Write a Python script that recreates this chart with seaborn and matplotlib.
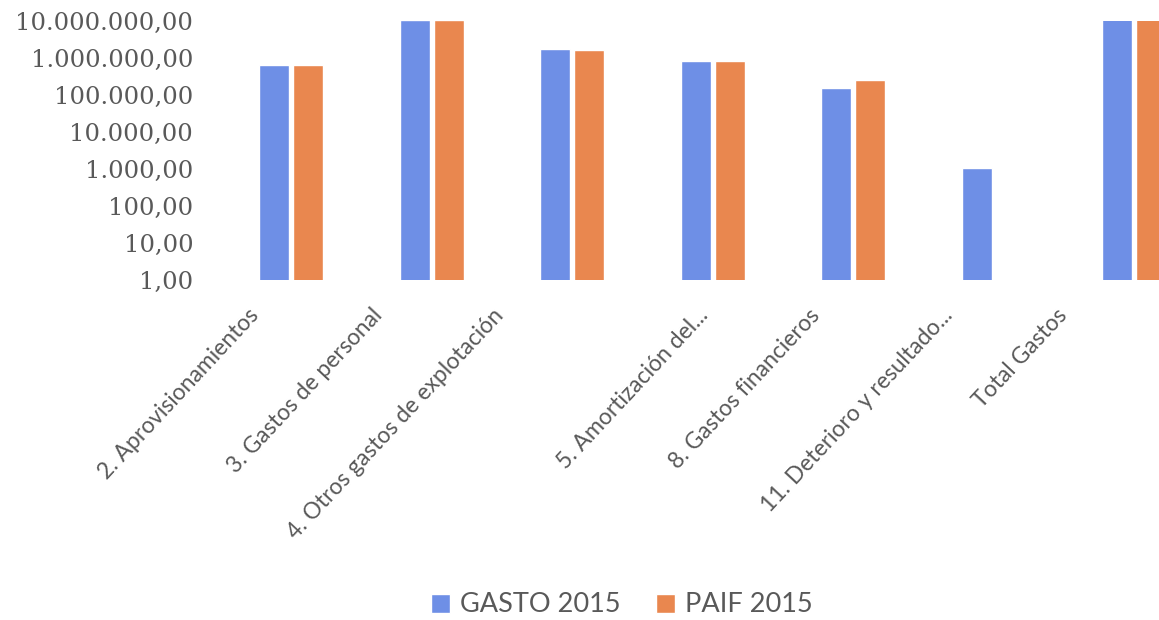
import matplotlib
matplotlib.use("Agg")
import matplotlib.pyplot as plt
import matplotlib.transforms as mtransforms
from matplotlib.patches import Patch
from matplotlib.ticker import FixedLocator, FuncFormatter, NullLocator
import numpy as np
import pandas as pd
import seaborn as sns

categories = [
    "2. Aprovisionamientos",
    "3. Gastos de personal",
    "4. Otros gastos de explotación",
    "5. Amortización del...",
    "8. Gastos financieros",
    "11. Deterioro y resultado...",
    "Total Gastos",
]
gasto_2015 = [630000, 10500000, 1730000, 810000, 155000, 1050, 13000000]
paif_2015 = [640000, 10800000, 1650000, 850000, 257000, np.nan, 13500000]
series_names = ["GASTO 2015", "PAIF 2015"]
y_ticks = [1, 10, 100, 1000, 10000, 100000, 1000000, 10000000]

blue = "#6E8FE6"
orange = "#E9874F"
grey = "#595959"

# horizontal nudge (px) of each rotated category label, as in the scan
label_nudge = [-36, -53, -72, -8, -37, -45, -71]

df = pd.DataFrame({
    "categoria": categories * 2,
    "serie": [series_names[0]] * len(categories) + [series_names[1]] * len(categories),
    "valor": gasto_2015 + paif_2015,
})

sns.set_theme(style="white")
plt.rcParams["font.family"] = ["Lato", "DejaVu Sans"]

fig = plt.figure(figsize=(11.59, 6.2), dpi=100)
ax = fig.add_axes([221 / 1159, 340 / 620, 983.5 / 1159, 259 / 620])

sns.barplot(
    data=df, x="categoria", y="valor", hue="serie",
    palette=[blue, orange], width=0.49, gap=0.13,
    legend=False, ax=ax, saturation=1,
)

ax.set_yscale("log", nonpositive="clip")
ax.set_ylim(1, 1e7)
ax.set_xlim(-0.5, len(categories) - 0.5)
ax.yaxis.set_major_locator(FixedLocator(y_ticks))
ax.yaxis.set_minor_locator(NullLocator())


def es_fmt(v, pos):
    s = f"{v:,.2f}"
    return s.replace(",", "X").replace(".", ",").replace("X", ".")


ax.yaxis.set_major_formatter(FuncFormatter(es_fmt))
ax.tick_params(axis="y", length=0, pad=20, labelsize=17.5, labelcolor=grey)
for lab in ax.get_yticklabels():
    lab.set_fontfamily("DejaVu Serif")

ax.tick_params(axis="x", length=0, pad=23, labelsize=16.5, labelcolor=grey)
ax.set_xticks(range(len(categories)))
ax.set_xticklabels(categories, rotation=47, ha="right", va="center", rotation_mode="anchor")
for lab, dx in zip(ax.get_xticklabels(), label_nudge):
    shift = mtransforms.ScaledTranslation(dx / 100, 0, fig.dpi_scale_trans)
    lab.set_transform(lab.get_transform() + shift)

ax.set_xlabel("")
ax.set_ylabel("")
for sp in ax.spines.values():
    sp.set_visible(False)
ax.grid(False)

handles = [Patch(facecolor=blue), Patch(facecolor=orange)]
fig.legend(
    handles, series_names, loc="center", ncol=2, frameon=False,
    bbox_to_anchor=(622 / 1159, 1 - 605 / 620),
    fontsize=19.5, labelcolor=grey,
    handlelength=0.7, handleheight=0.7, handletextpad=0.37, columnspacing=1.3,
)

fig.savefig("out.png", dpi=100)
